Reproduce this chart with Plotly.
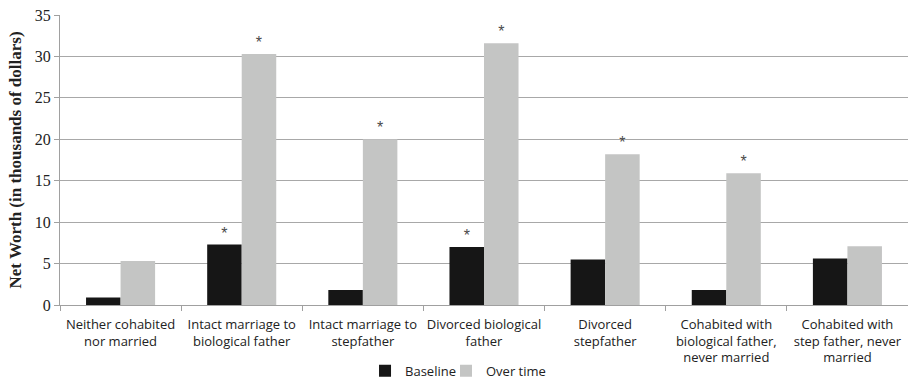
import plotly.graph_objects as go

categories = [
    "Neither cohabited<br>nor married",
    "Intact marriage to<br>biological father",
    "Intact marriage to<br>stepfather",
    "Divorced biological<br>father",
    "Divorced<br>stepfather",
    "Cohabited with<br>biological father,<br>never married",
    "Cohabited with<br>step father, never<br>married",
]
baseline = [0.9, 7.3, 1.8, 7.0, 5.5, 1.8, 5.6]
over_time = [5.3, 30.3, 20.0, 31.6, 18.2, 15.9, 7.1]
baseline_sig = ["", "*", "", "*", "", "", ""]
over_time_sig = ["", "*", "*", "*", "*", "*", ""]
y_ticks = [0, 5, 10, 15, 20, 25, 30, 35]

fig = go.Figure()
fig.add_trace(go.Bar(
    name="Baseline", x=categories, y=baseline, legend="legend",
    marker=dict(color="#161616", line=dict(color="#161616", width=0)),
    text=baseline_sig, textposition="outside",
    textfont=dict(family="Liberation Sans", size=16, color="#4a4a4a"),
    cliponaxis=False,
))
fig.add_trace(go.Bar(
    name="Over time", x=categories, y=over_time, legend="legend2",
    marker=dict(color="#c4c5c4", line=dict(color="#c4c5c4", width=0)),
    text=over_time_sig, textposition="outside",
    textfont=dict(family="Liberation Sans", size=16, color="#4a4a4a"),
    cliponaxis=False,
))

legend_font = dict(family="Open Sans", size=13, color="#222222")
fig.update_layout(
    width=908, height=380,
    margin=dict(l=60, r=0, t=15, b=75, autoexpand=False),
    paper_bgcolor="white", plot_bgcolor="white",
    barmode="group", bargap=0.43, bargroupgap=0,
    showlegend=True,
    legend=dict(orientation="h", x=0.3597, xanchor="left", y=-0.175, yanchor="top",
                font=legend_font, itemwidth=30, bgcolor="rgba(0,0,0,0)"),
    legend2=dict(orientation="h", x=0.4552, xanchor="left", y=-0.175, yanchor="top",
                 font=legend_font, itemwidth=30, bgcolor="rgba(0,0,0,0)"),
)
fig.update_xaxes(
    type="category", automargin=False, tickangle=0,
    showline=True, linecolor="#a0a0a0", linewidth=1,
    ticks="outside", tickson="boundaries", ticklen=5, tickcolor="#a0a0a0",
    tickfont=dict(family="Open Sans", size=13, color="#222222"),
    ticklabelstandoff=7,
    showgrid=False,
)
fig.update_yaxes(
    range=[0, 35], tickvals=y_ticks, automargin=False,
    showline=True, linecolor="#a0a0a0", linewidth=1,
    ticks="outside", ticklen=5, tickcolor="#a0a0a0",
    showgrid=True, gridcolor="#a8a8a8", gridwidth=1,
    tickfont=dict(family="Liberation Serif", size=16, color="#222222"),
    ticklabeloverflow="allow",
    title=dict(text="<b>Net Worth (in thousands of dollars)</b>",
               font=dict(family="Liberation Serif", size=17, color="#222222"),
               standoff=8),
    zeroline=False,
)

fig.write_html("out.html",
               config={"displayModeBar": False},
               post_script="document.body.style.margin='0';document.body.style.overflow='hidden';")
